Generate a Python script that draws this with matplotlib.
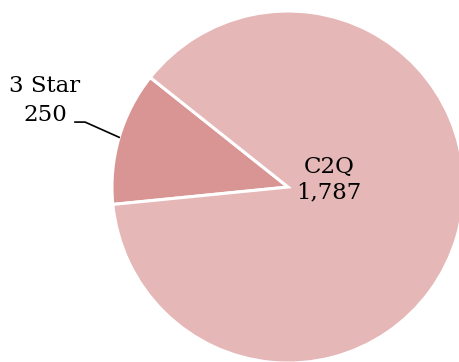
import numpy as np
import matplotlib.pyplot as plt

# Data
labels = ['3 Star', 'C2Q']
values = [250, 1787]
colors = ['#d99594', '#e6b7b7']

fig = plt.figure(figsize=(4.6, 3.62), dpi=100)
ax = fig.add_axes([0, 0, 1, 1])

wedges, _ = ax.pie(values, colors=colors, startangle=141.5, counterclock=True,
                   radius=1, center=(0, 0),
                   wedgeprops=dict(edgecolor='white', linewidth=2.2))

ax.set_xlim(-1.636, 0.977)
ax.set_ylim(-0.994, 1.0625)
ax.set_aspect('equal')
ax.axis('off')

font = dict(family='DejaVu Serif', fontsize=16.5, color='black')

# Label for the small slice with a leader line
w = wedges[0]
mid = np.deg2rad((w.theta1 + w.theta2) / 2)
edge = (np.cos(mid), np.sin(mid))
ax.plot([-1.21, -1.153, edge[0]], [0.369, 0.369, edge[1]], color='black', lw=1.2)
ax.text(-1.381, 0.493, f'{labels[0]}\n{values[0]:,}', ha='center', va='center',
        linespacing=1.4, **font)

# Label inside the large slice
ax.text(0.233, 0.04, f'{labels[1]}\n{values[1]:,}', ha='center', va='center',
        linespacing=1.2, **font)

fig.savefig('out.png', dpi=100)
